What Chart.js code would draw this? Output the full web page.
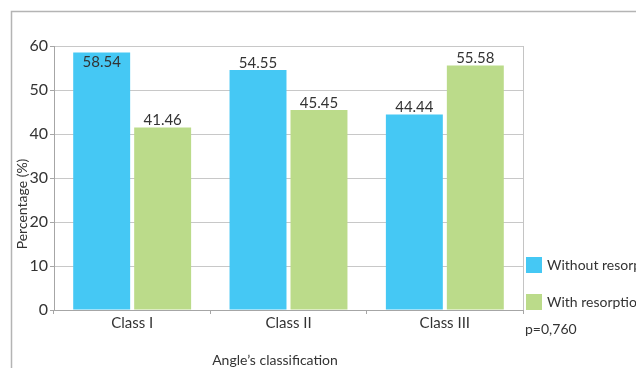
<!DOCTYPE html>
<html lang="en">
<head>
    <meta charset="UTF-8">
    <title>Angle's classification</title>
    <script src="https://cdn.jsdelivr.net/npm/chart.js"></script>
    <style>
        body {
            margin: 0;
            background: #ffffff;
        }
    </style>
</head>
<body>
    <canvas id="grafico" width="636" height="368"></canvas>

    <script>
        // dados
        const categorias = ['Class I', 'Class II', 'Class III'];
        const semReabsorcao = [58.54, 54.55, 44.44];
        const comReabsorcao = [41.46, 45.45, 55.58];
        const nomesSeries = ['Without resorption', 'With resorption'];
        const coresSeries = ['#45c8f4', '#bbdb8a'];
        const valorP = 'p=0,760';

        const fonte = 'Lato, "Open Sans", sans-serif';
        const corTexto = '#333333';

        // rótulos, legenda, títulos e moldura
        const extras = {
            id: 'extras',
            afterDatasetsDraw(chart) {
                const c = chart.ctx;
                const area = chart.chartArea;
                c.save();
                c.font = '15px ' + fonte;
                c.fillStyle = corTexto;
                c.textAlign = 'center';
                c.textBaseline = 'middle';
                chart.data.datasets.forEach((ds, i) => {
                    chart.getDatasetMeta(i).data.forEach((bar, j) => {
                        let y = bar.y - 7;
                        if (y - 7 < area.top) y = bar.y + 10;
                        c.fillText(ds.data[j].toFixed(2), bar.x, y);
                    });
                });
                c.restore();
            },
            afterDraw(chart) {
                const c = chart.ctx;
                const area = chart.chartArea;
                c.save();

                // moldura externa
                c.strokeStyle = '#b4b4b4';
                c.lineWidth = 1.5;
                c.beginPath();
                c.moveTo(11.5, chart.height);
                c.lineTo(11.5, 11.5);
                c.lineTo(chart.width, 11.5);
                c.stroke();

                // borda direita da área do gráfico
                c.strokeStyle = '#c4c4c4';
                c.lineWidth = 1;
                c.beginPath();
                c.moveTo(Math.round(area.right) + 0.5, area.top);
                c.lineTo(Math.round(area.right) + 0.5, area.bottom);
                c.stroke();

                // legenda
                c.font = '14px ' + fonte;
                c.textBaseline = 'middle';
                c.textAlign = 'left';
                chart.data.datasets.forEach((ds, i) => {
                    const topo = 257 + i * 37;
                    c.fillStyle = ds.backgroundColor;
                    c.fillRect(526, topo, 16, 16);
                    c.fillStyle = corTexto;
                    c.fillText(ds.label, 547, topo + 8);
                });
                c.fillText(valorP, 525, 329);

                // títulos dos eixos
                c.font = '14px ' + fonte;
                c.textAlign = 'center';
                c.fillText("Angle\u2019s classification", 275, 360);
                c.translate(22, 204);
                c.rotate(-Math.PI / 2);
                c.fillText('Percentage (%)', 0, 0);
                c.restore();
            }
        };

        new Chart(document.getElementById('grafico'), {
            type: 'bar',
            data: {
                labels: categorias,
                datasets: [
                    { label: nomesSeries[0], data: semReabsorcao, backgroundColor: coresSeries[0] },
                    { label: nomesSeries[1], data: comReabsorcao, backgroundColor: coresSeries[1] }
                ]
            },
            options: {
                responsive: false,
                animation: false,
                layout: { padding: { left: 0, right: 113, top: 46, bottom: 0 } },
                datasets: {
                    bar: { categoryPercentage: 0.78, barPercentage: 0.934 }
                },
                plugins: {
                    legend: { display: false },
                    tooltip: { enabled: false }
                },
                scales: {
                    x: {
                        afterFit: (s) => { s.height = 58; },
                        grid: {
                            drawOnChartArea: false,
                            tickLength: 4,
                            color: '#a6a6a6'
                        },
                        border: { color: '#a6a6a6' },
                        ticks: {
                            padding: 0,
                            color: corTexto,
                            font: { family: fonte, size: 15 }
                        }
                    },
                    y: {
                        min: 0,
                        max: 60,
                        afterFit: (s) => { s.width = 54; },
                        grid: {
                            color: '#c8c8c8',
                            tickLength: 4,
                            tickColor: '#a6a6a6'
                        },
                        border: { color: '#a6a6a6' },
                        ticks: {
                            stepSize: 10,
                            padding: 2,
                            color: corTexto,
                            font: { family: fonte, size: 16 }
                        }
                    }
                }
            },
            plugins: [extras]
        });
    </script>
</body>
</html>
